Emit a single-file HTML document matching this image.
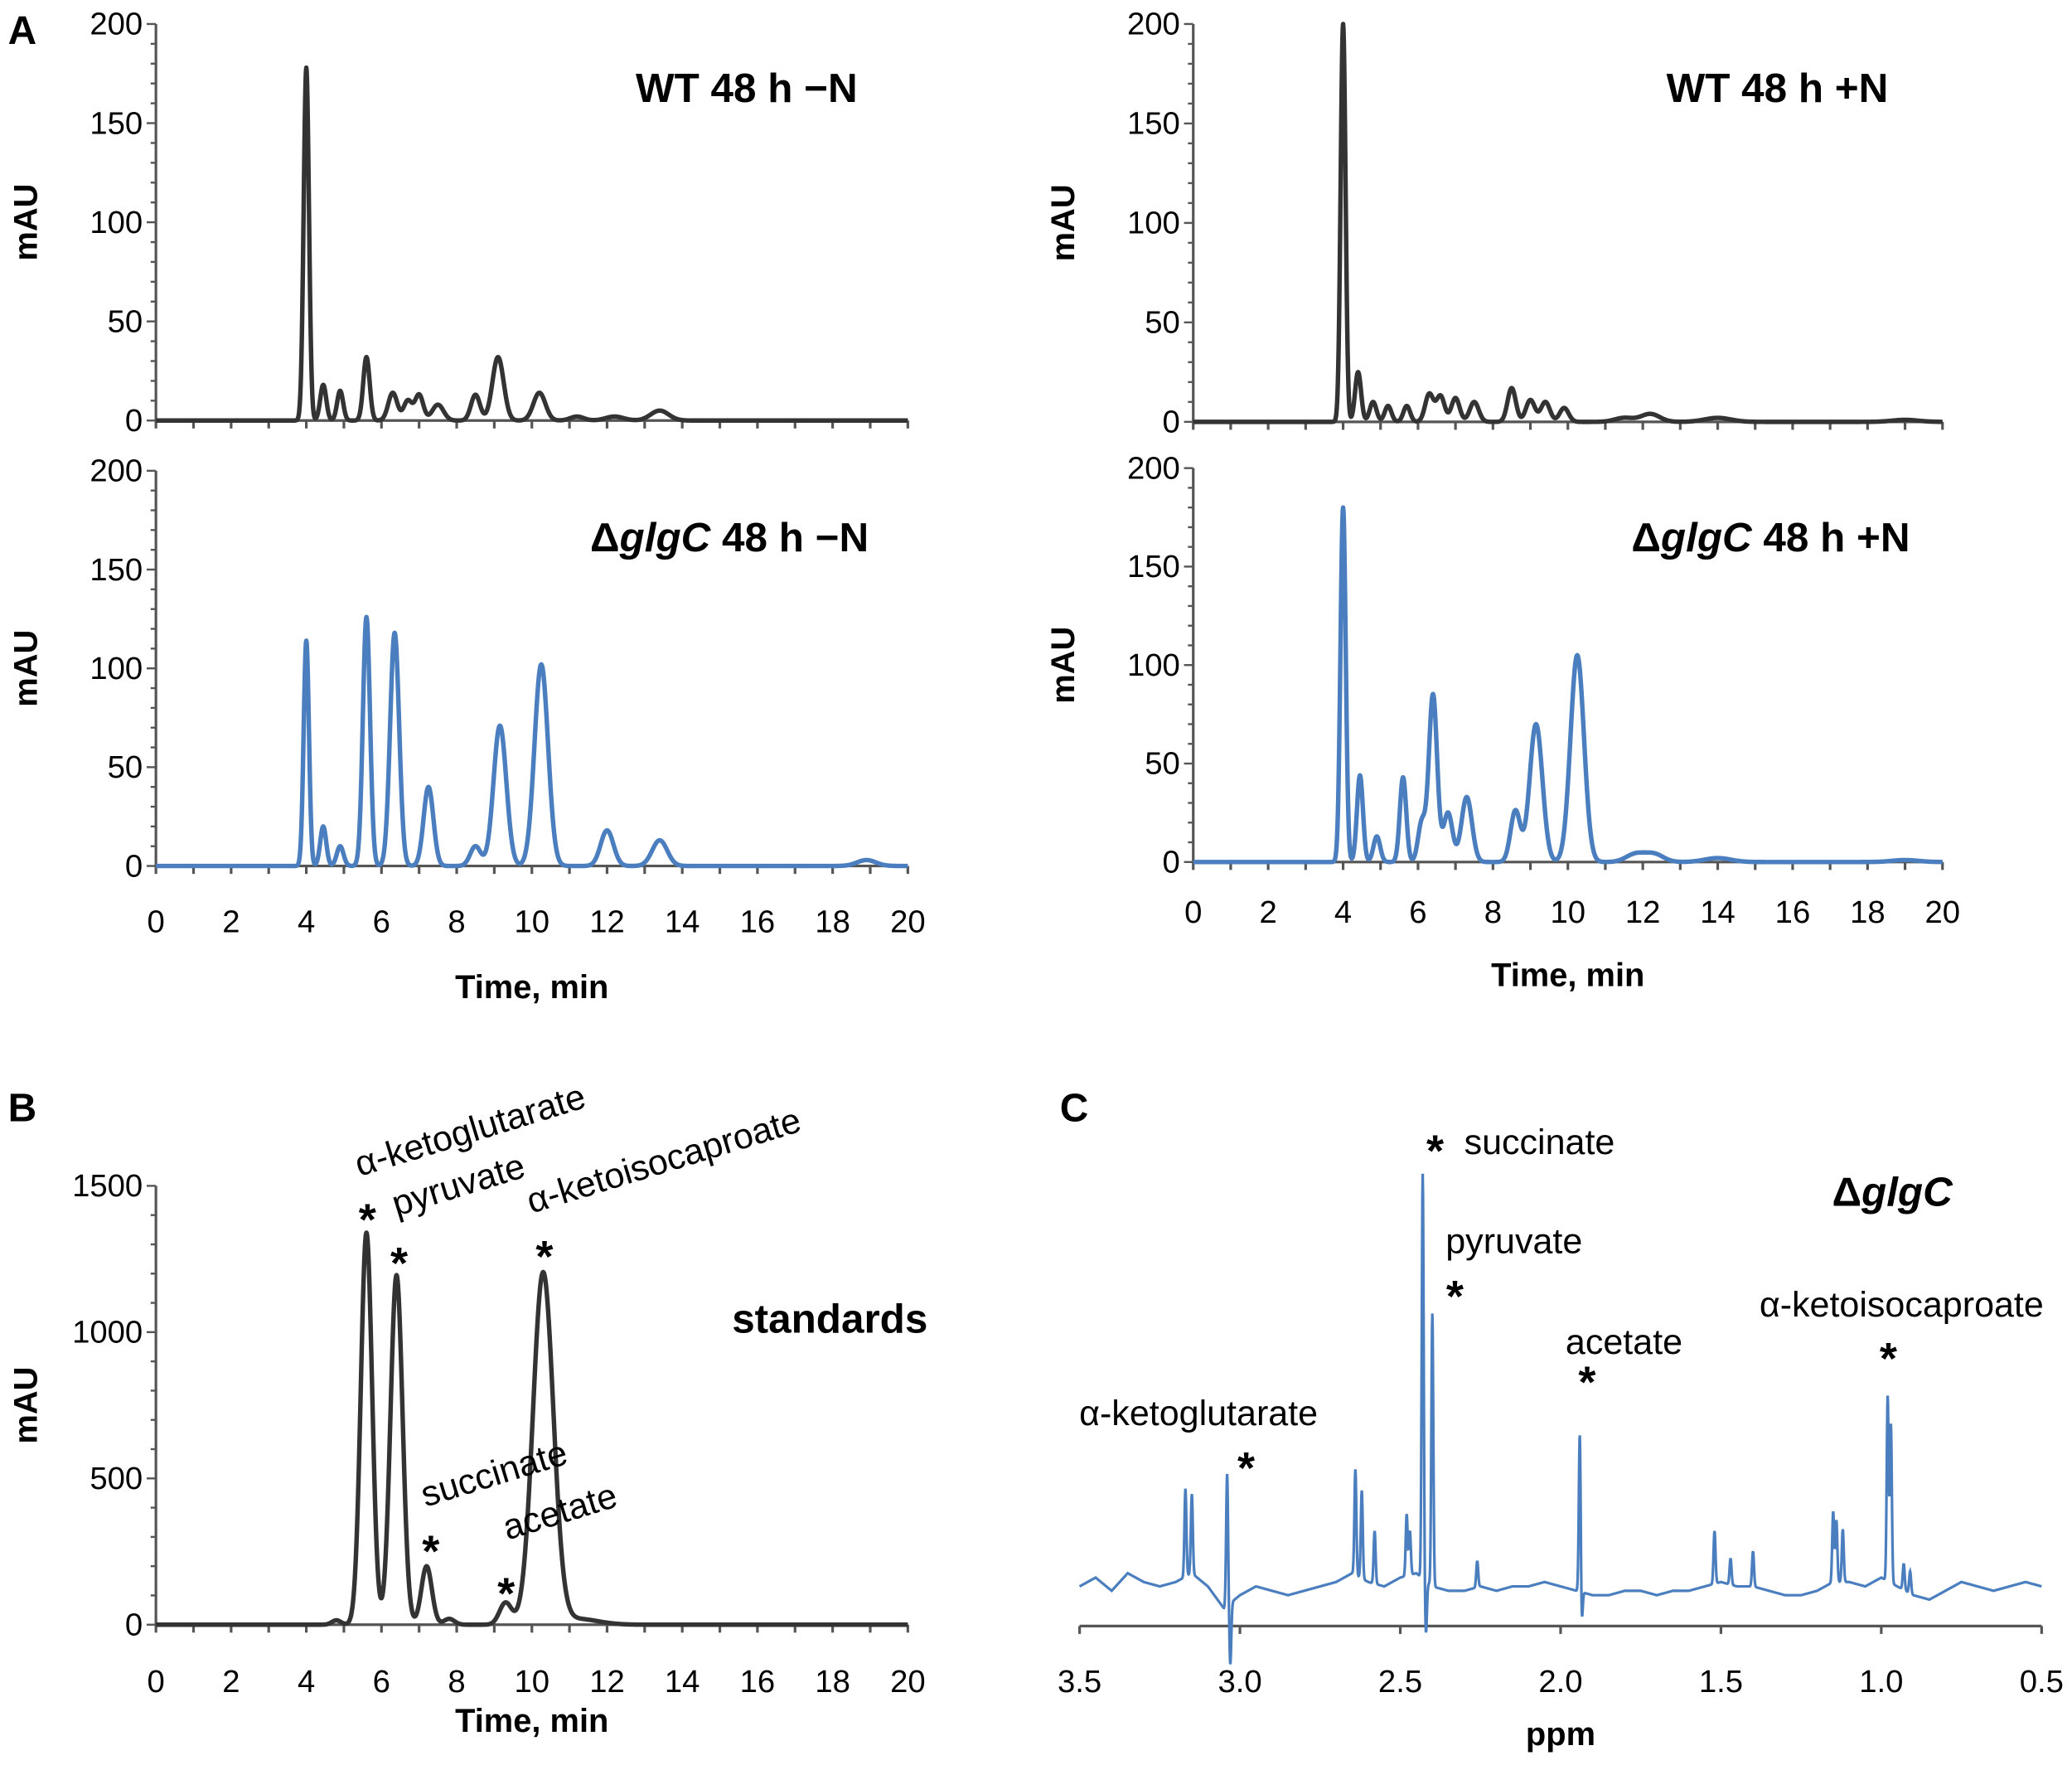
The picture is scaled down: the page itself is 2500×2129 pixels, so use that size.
<!DOCTYPE html>
<html><head><meta charset="utf-8"><style>
html,body{margin:0;padding:0;background:#fff}
svg{display:block}
text{font-family:"Liberation Sans",sans-serif;fill:#000}
</style></head><body>
<svg id="fig" xmlns="http://www.w3.org/2000/svg" width="2500" height="2129" viewBox="0 0 1568 1335">
<rect width="1568" height="1335" fill="#fff"/>
<text x="6" y="33" font-size="30" font-weight="bold">A</text>
<text x="6" y="848" font-size="30" font-weight="bold">B</text>
<text x="802" y="848" font-size="30" font-weight="bold">C</text>
<g id="g"></g>
</svg>
<script>
// ---- data ----
const wtMinusTimes=[4.0,4.45,4.9,5.6,6.3,6.7,7.0,7.5,8.5,9.1,10.2,11.2,12.2,13.4];
const wtMinusHeights=[178,18,15,32,14,10,13,8,13,32,14,2,2,5];
const wtMinusWidths=[0.07,0.08,0.08,0.085,0.12,0.11,0.11,0.15,0.12,0.15,0.16,0.18,0.24,0.24];
const wtPlusTimes=[4.0,4.4,4.8,5.2,5.7,6.3,6.6,7.0,7.5,8.5,9.0,9.4,9.9,11.5,12.2,14.0,19.0];
const wtPlusHeights=[200,25,10,8,8,14,13,12,10,17,11,10,7,2,4,2,1];
const wtPlusWidths=[0.065,0.08,0.09,0.09,0.09,0.11,0.11,0.11,0.12,0.11,0.12,0.12,0.12,0.25,0.25,0.35,0.35];
const gMinusTimes=[4.0,4.45,4.9,5.6,6.35,7.25,8.5,9.15,10.25,12.0,13.4,18.9];
const gMinusHeights=[114,20,10,126,118,40,10,71,102,18,13,3];
const gMinusWidths=[0.07,0.08,0.09,0.095,0.12,0.13,0.14,0.17,0.18,0.17,0.2,0.25];
const gPlusTimes=[4.0,4.45,4.9,5.6,6.1,6.4,6.8,7.3,8.6,9.15,10.25,11.8,12.3,14.0,19.0];
const gPlusHeights=[180,44,13,43,20,85,25,33,26,70,105,4,4,2,1];
const gPlusWidths=[0.07,0.08,0.09,0.085,0.1,0.11,0.12,0.14,0.13,0.17,0.18,0.25,0.25,0.35,0.35];
const stdTimes=[4.8,5.6,6.4,7.2,7.8,9.3,10.3,11.2];
const stdHeights=[15,1340,1195,200,20,75,1200,20];
const stdWidths=[0.12,0.15,0.16,0.14,0.14,0.16,0.27,0.55];
const nmrPpm=[3.17,3.15,3.04,3.03,2.64,2.62,2.58,2.48,2.47,2.43,2.42,2.40,2.26,1.94,1.935,1.52,1.47,1.40,1.15,1.14,1.12,0.98,0.97,0.93,0.91];
const nmrHeights=[20,18,30,-14,24,20,12,14,10,92,-12,62,6,38,-10,12,6,8,16,14,12,42,36,6,5];
const nmrBaselinePpm=[3.5,3.45,3.4,3.35,3.3,3.25,3.2,3.15,3.1,3.05,3.0,2.95,2.9,2.85,2.8,2.75,2.7,2.65,2.6,2.55,2.5,2.45,2.4,2.35,2.3,2.25,2.2,2.15,2.1,2.05,2.0,1.95,1.9,1.85,1.8,1.75,1.7,1.65,1.6,1.55,1.5,1.45,1.4,1.35,1.3,1.25,1.2,1.15,1.1,1.05,1.0,0.95,0.9,0.85,0.8,0.75,0.7,0.65,0.6,0.55,0.5];
const nmrBaseline=[9,11,8,12,10,9,10,12,9,4,7,9,8,7,8,9,10,12,10,9,11,12,9,8,8,9,8,9,9,10,9,8,7,7,8,8,7,8,8,9,10,9,9,8,7,7,8,10,10,9,11,9,7,6,8,10,9,8,9,10,9];
const timeTicks=[0,2,4,6,8,10,12,14,16,18,20];
const mauTicks=[0,50,100,150,200];
const stdTicks=[0,500,1000,1500];
const ppmTicks=[3.5,3.0,2.5,2.0,1.5,1.0,0.5];

const NS="http://www.w3.org/2000/svg";
const G=document.getElementById('g');
function el(tag,attrs,parent){const e=document.createElementNS(NS,tag);for(const k in attrs)e.setAttribute(k,attrs[k]);(parent||G).appendChild(e);return e;}
function txt(x,y,s,size,anchor,weight,parent){const t=el('text',{x:x,y:y,'font-size':size,'text-anchor':anchor||'middle','font-weight':weight||'normal'},parent);t.textContent=s;return t;}

function chromPanel(name,x0,x1,y0,y1,ymax,yticks,minorStep,times,heights,widths,color,showX,xLabelY,titleY){
  const g=el('g',{});
  
  
  const sx=t=>x0+(x1-x0)*t/20, sy=v=>y0-(y0-y1)*Math.min(v,ymax)/ymax;
  const ax=el('path',{d:`M${x0},${y1}V${y0}H${x1}`,stroke:'#555',fill:'none','stroke-width':2},g);
  
  
  for(let t=0;t<=20;t++){el('line',{x1:sx(t),x2:sx(t),y1:y0,y2:y0+6,stroke:'#555','stroke-width':2},g);}
  for(let v=0;v<=ymax;v+=minorStep){el('line',{x1:x0-(v%yticks[1]===0?7:4),x2:x0,y1:sy(v),y2:sy(v),stroke:'#555','stroke-width':1.5},g);}
  yticks.forEach(v=>{const t=txt(x0-10,sy(v)+8,String(v),24,'end','normal',g);
    
    });
  if(showX){timeTicks.forEach(v=>{const t=txt(sx(v),xLabelY,String(v),24,'middle','normal',g);
      
      });
    const xt=txt((x0+x1)/2,titleY,'Time, min',25,'middle','bold',g);
    
    }
  const yl=txt(0,0,'mAU',25,'middle','bold',g);
  yl.setAttribute('transform',`translate(${x0-90},${(y0+y1)/2}) rotate(-90)`);
  
  
  let d='';
  for(let t=0;t<=20.0001;t+=0.01){let v=0;for(let i=0;i<times.length;i++){const z=(t-times[i])/widths[i];v+=heights[i]*Math.exp(-0.5*z*z);}
    d+=(d?'L':'M')+sx(t).toFixed(2)+','+sy(v).toFixed(2);}
  const p=el('path',{d:d,stroke:color,fill:'none','stroke-width':3.4,'stroke-linejoin':'round'},g);
  
  
  return {g,sx,sy};
}
const dark='#333', blue='#4a7ebf';
let a=chromPanel('chart-wt-minus-n',118,687,318,18,200,mauTicks,10,wtMinusTimes,wtMinusHeights,wtMinusWidths,dark,false);
let t=txt(565,77,'WT 48 h \u2212N',31,'middle','bold',a.g);
a=chromPanel('chart-glgc-minus-n',118,687,655,356,200,mauTicks,10,gMinusTimes,gMinusHeights,gMinusWidths,blue,true,705,755);
t=el('text',{x:552,y:417,'font-size':31,'font-weight':'bold','text-anchor':'middle'},a.g);t.innerHTML='\u0394<tspan font-style="italic">glgC</tspan> 48 h \u2212N';
a=chromPanel('chart-wt-plus-n',903,1470,319,18,200,mauTicks,10,wtPlusTimes,wtPlusHeights,wtPlusWidths,dark,false);
t=txt(1345,77,'WT 48 h +N',31,'middle','bold',a.g);
a=chromPanel('chart-glgc-plus-n',903,1470,652,354,200,mauTicks,10,gPlusTimes,gPlusHeights,gPlusWidths,blue,true,698,746);
t=el('text',{x:1340,y:417,'font-size':31,'font-weight':'bold','text-anchor':'middle'},a.g);t.innerHTML='\u0394<tspan font-style="italic">glgC</tspan> 48 h +N';

// B
const b=chromPanel('chart-standards',118,687,1229,897,1500,stdTicks,100,stdTimes,stdHeights,stdWidths,dark,true,1280,1310);
t=txt(628,1008,'standards',31,'middle','bold',b.g);
function ann(g,x,y,s,rot,name){const e=txt(0,0,s,27,'start','normal',g);e.setAttribute('transform',`translate(${x},${y}) rotate(${rot})`);
  
  }
ann(b.g,272,890,'\u03b1-ketoglutarate',-17,'annotation-akg');
ann(b.g,300,920,'pyruvate',-17,'annotation-pyruvate');
ann(b.g,402,918,'\u03b1-ketoisocaproate',-17,'annotation-kic');
ann(b.g,322,1140,'succinate',-17,'annotation-succinate');
ann(b.g,384,1165,'acetate',-17,'annotation-acetate');
[[278,922],[302,955],[412,950],[326,1173],[383,1205]].forEach(p=>{const s=txt(p[0],p[1]+12,'*',34,'middle','bold',b.g);});

// C
const cg=el('g',{});


const px0=817,px1=1545,baseY=1230;
const sxp=p=>px0+(px1-px0)*(3.5-p)/3.0, syp=v=>baseY-v*3.33;
el('line',{x1:px0,x2:px1,y1:baseY,y2:baseY,stroke:'#555','stroke-width':2},cg);
for(let p=3.5;p>=0.49;p-=0.5){el('line',{x1:sxp(p),x2:sxp(p),y1:baseY,y2:baseY+6,stroke:'#555','stroke-width':2},cg);}
ppmTicks.forEach(v=>{const e=txt(sxp(v),1280,v.toFixed(1),24,'middle','normal',cg);});
t=txt(1181,1320,'ppm',25,'middle','bold',cg);
function baseAt(p){for(let i=0;i<nmrBaselinePpm.length-1;i++){const a0=nmrBaselinePpm[i],a1=nmrBaselinePpm[i+1];if(p<=a0&&p>=a1){const f=(a0-p)/(a0-a1);return nmrBaseline[i]*(1-f)+nmrBaseline[i+1]*f;}}return nmrBaseline[nmrBaseline.length-1];}
let d='';
for(let p=3.5;p>=0.5;p-=0.001){let v=baseAt(p);for(let i=0;i<nmrPpm.length;i++){const z=(p-nmrPpm[i])/0.003;v+=nmrHeights[i]*Math.exp(-0.5*z*z);}
  d+=(d?'L':'M')+sxp(p).toFixed(2)+','+syp(v).toFixed(2);}
const np=el('path',{d:d,stroke:blue,fill:'none','stroke-width':2},cg);


t=el('text',{x:1432,y:912,'font-size':31,'font-weight':'bold','text-anchor':'middle'},cg);t.innerHTML='\u0394<tspan font-style="italic">glgC</tspan>';
[[1108,873,'succinate','start'],[1094,948,'pyruvate','start'],[1229,1024,'acetate','middle'],[1439,996,'\u03b1-ketoisocaproate','middle'],[907,1078,'\u03b1-ketoglutarate','middle']].forEach(a=>{
  const e=txt(a[0],a[1],a[2],27,a[3],'normal',cg);
  
  });
[[1086,870],[1101,980],[1201,1045],[1429,1027],[943,1110]].forEach(p=>{const s=txt(p[0],p[1]+12,'*',34,'middle','bold',cg);});
</script>
</body></html>
